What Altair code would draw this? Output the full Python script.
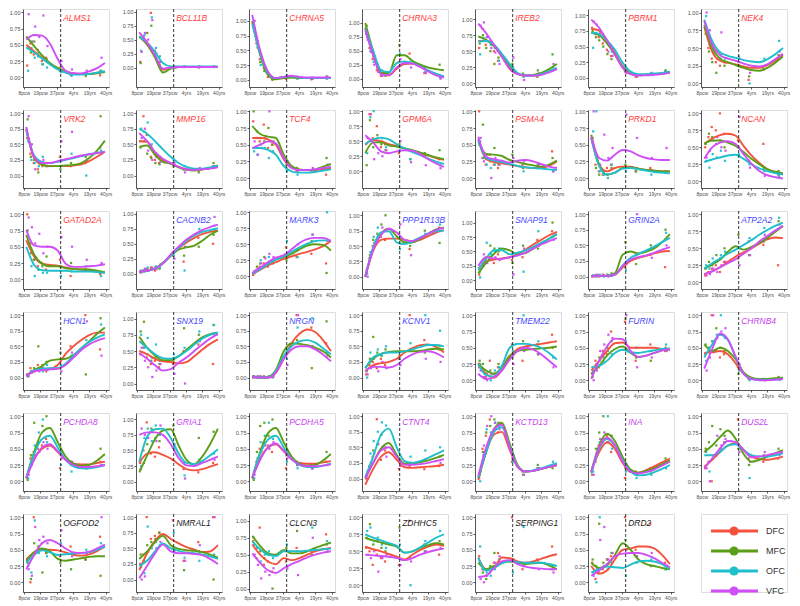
import json
import altair as alt
import pandas as pd

SERIES = ["DFC", "MFC", "OFC", "VFC"]
SERIES_COLORS = ["#f4523e", "#5b9e17", "#1fbfcb", "#d04ef7"]
X_LABELS = ["8pcw", "19pcw", "37pcw", "4yrs", "19yrs", "40yrs"]
KNOTS = [0.15, 0.63, 1.11, 1.59, 2.07, 2.55, 3.03, 3.51, 3.99, 4.47, 4.95]
SAMPLES = [0.25, 0.45, 0.65, 0.9, 1.15, 1.4, 2.25, 2.9, 3.8, 4.7]
BIRTH = 2.25

GENES = ["ALMS1", "BCL11B", "CHRNA5", "CHRNA3", "IREB2", "PBRM1", "NEK4",
         "VRK2", "MMP16", "TCF4", "GPM6A", "PSMA4", "PRKD1", "NCAN",
         "GATAD2A", "CACNB2", "MARK3", "PPP1R13B", "SNAP91", "GRIN2A", "ATP2A2",
         "HCN1", "SNX19", "NRGN", "KCNV1", "TMEM22", "FURIN", "CHRNB4",
         "PCHDA8", "GRIA1", "PCDHA5", "CTNT4", "KCTD13", "INA", "DUS2L",
         "OGFOD2", "NMRAL1", "CLCN3", "ZDHHC5", "SERPING1", "DRD2"]
TITLE_GROUP = ["r"] * 15 + ["b"] * 12 + ["m"] * 8 + ["k"] * 6
GROUP_COLORS = {"r": "#ff3d3d", "b": "#4646ff", "m": "#c63ff0", "k": "#1a1a1a"}

Y_LOW = [-0.15, -0.35, -0.12, -0.15, -0.06, -0.145, -0.05,
         -0.2, -0.2, -0.15, -0.28, -0.15, -0.15, -0.1,
         -0.15, -0.26, -0.2, -0.2, -0.15, -0.2, -0.1,
         -0.2, -0.1, -0.2, -0.2, -0.15, -0.15, -0.15,
         -0.15, -0.15, -0.15, -0.2, -0.15, -0.15, -0.15,
         -0.15, -0.2, -0.05, -0.1, -0.15, -0.15]
Y_HIGH = [1.05, 1.05, 1.2, 1.25, 1.16, 1.1, 1.05,
          1.05, 1.05, 1.02, 1.02, 1.02, 1.02, 1.05,
          1.05, 1.05, 1.02, 1.07, 1.2, 1.05, 1.05,
          1.05, 1.1, 1.05, 1.05, 1.05, 1.05, 1.05,
          1.05, 1.1, 1.05, 1.05, 1.05, 1.05, 1.05,
          1.05, 1.05, 1.1, 1.05, 1.05, 1.05]

# smoothed trend values at KNOTS, rows: DFC, MFC, OFC, VFC
ALMS1_LINE = [[0.50, 0.40, 0.30, 0.21, 0.14, 0.09, 0.06, 0.05, 0.05, 0.07, 0.09],
              [0.63, 0.48, 0.34, 0.22, 0.14, 0.08, 0.06, 0.05, 0.05, 0.06, 0.08],
              [0.46, 0.38, 0.29, 0.20, 0.12, 0.07, 0.04, 0.04, 0.05, 0.07, 0.09],
              [0.58, 0.65, 0.64, 0.52, 0.28, 0.10, 0.06, 0.06, 0.09, 0.14, 0.22]]
BCL11B_LINE = [[0.55, 0.41, 0.20, -0.04, 0.0, 0.01, 0.01, 0.01, 0.01, 0.01, 0.01],
               [0.56, 0.42, 0.18, -0.09, -0.02, 0.01, 0.01, 0.01, 0.01, 0.01, 0.01],
               [0.55, 0.45, 0.28, 0.08, 0.02, 0.02, 0.02, 0.02, 0.02, 0.02, 0.02],
               [0.63, 0.45, 0.22, -0.02, 0.0, 0.01, 0.01, 0.01, 0.01, 0.01, 0.01]]
CHRNA5_LINE = [[0.98, 0.45, 0.12, 0.03, 0.04, 0.05, 0.03, 0.03, 0.03, 0.03, 0.03],
               [1.0, 0.42, 0.08, 0.01, 0.03, 0.04, 0.03, 0.03, 0.03, 0.03, 0.03],
               [0.95, 0.45, 0.12, 0.03, 0.05, 0.06, 0.04, 0.03, 0.03, 0.03, 0.03],
               [1.1, 0.5, 0.14, 0.03, 0.05, 0.07, 0.05, 0.04, 0.04, 0.04, 0.04]]
CHRNA3_LINE = [[0.92, 0.45, 0.1, 0.06, 0.18, 0.26, 0.27, 0.22, 0.14, 0.08, 0.03],
               [1.0, 0.5, 0.1, 0.1, 0.42, 0.42, 0.32, 0.25, 0.2, 0.17, 0.15],
               [0.9, 0.5, 0.15, 0.12, 0.28, 0.31, 0.28, 0.22, 0.15, 0.09, 0.04],
               [0.88, 0.42, 0.08, 0.06, 0.2, 0.28, 0.27, 0.21, 0.13, 0.06, 0.02]]
IREB2_LINE = [[0.66, 0.66, 0.58, 0.42, 0.22, 0.14, 0.12, 0.12, 0.14, 0.18, 0.22],
              [0.73, 0.68, 0.58, 0.44, 0.27, 0.15, 0.12, 0.13, 0.16, 0.22, 0.30],
              [0.65, 0.66, 0.6, 0.46, 0.3, 0.16, 0.12, 0.12, 0.14, 0.19, 0.24],
              [0.93, 0.78, 0.6, 0.41, 0.23, 0.14, 0.12, 0.12, 0.13, 0.17, 0.22]]
PBRM1_LINE = [[0.78, 0.76, 0.6, 0.4, 0.18, 0.07, 0.04, 0.05, 0.06, 0.07, 0.09],
              [0.72, 0.68, 0.55, 0.37, 0.17, 0.07, 0.04, 0.05, 0.06, 0.07, 0.09],
              [0.72, 0.7, 0.6, 0.45, 0.24, 0.1, 0.06, 0.06, 0.07, 0.08, 0.1],
              [0.93, 0.8, 0.6, 0.38, 0.16, 0.06, 0.04, 0.04, 0.05, 0.06, 0.08]]
NEK4_LINE = [[0.80, 0.45, 0.32, 0.29, 0.27, 0.24, 0.22, 0.22, 0.26, 0.32, 0.40],
             [0.82, 0.5, 0.35, 0.3, 0.26, 0.22, 0.19, 0.18, 0.22, 0.29, 0.38],
             [0.90, 0.6, 0.44, 0.39, 0.36, 0.33, 0.31, 0.3, 0.34, 0.41, 0.50],
             [0.88, 0.55, 0.4, 0.35, 0.32, 0.28, 0.25, 0.24, 0.27, 0.34, 0.42]]
VRK2_LINE = [[0.75, 0.28, 0.17, 0.15, 0.15, 0.15, 0.16, 0.18, 0.23, 0.3, 0.38],
             [0.74, 0.3, 0.18, 0.15, 0.15, 0.16, 0.17, 0.2, 0.28, 0.4, 0.56],
             [0.72, 0.32, 0.22, 0.2, 0.22, 0.25, 0.28, 0.31, 0.34, 0.36, 0.38],
             [0.78, 0.3, 0.2, 0.2, 0.23, 0.26, 0.29, 0.32, 0.34, 0.36, 0.38]]
MMP16_LINE = [[0.55, 0.54, 0.36, 0.24, 0.19, 0.14, 0.1, 0.09, 0.1, 0.12, 0.14],
              [0.46, 0.48, 0.33, 0.22, 0.19, 0.13, 0.09, 0.08, 0.1, 0.12, 0.16],
              [0.75, 0.67, 0.55, 0.42, 0.3, 0.2, 0.14, 0.11, 0.11, 0.13, 0.16],
              [0.68, 0.55, 0.38, 0.27, 0.2, 0.14, 0.1, 0.09, 0.1, 0.11, 0.13]]
TCF4_LINE = [[0.6, 0.6, 0.58, 0.5, 0.28, 0.15, 0.12, 0.12, 0.12, 0.13, 0.15],
             [0.78, 0.66, 0.62, 0.6, 0.35, 0.18, 0.13, 0.12, 0.13, 0.17, 0.21],
             [0.45, 0.45, 0.42, 0.35, 0.18, 0.1, 0.08, 0.08, 0.09, 0.11, 0.13],
             [0.45, 0.5, 0.55, 0.52, 0.3, 0.15, 0.12, 0.12, 0.13, 0.15, 0.17]]
GPM6A_LINE = [[0.45, 0.52, 0.5, 0.45, 0.42, 0.38, 0.34, 0.3, 0.26, 0.22, 0.19],
              [0.3, 0.48, 0.48, 0.43, 0.41, 0.38, 0.35, 0.31, 0.27, 0.23, 0.2],
              [0.45, 0.53, 0.56, 0.53, 0.45, 0.38, 0.32, 0.27, 0.21, 0.16, 0.12],
              [0.6, 0.48, 0.33, 0.3, 0.33, 0.35, 0.34, 0.28, 0.2, 0.13, 0.07]]
PSMA4_LINE = [[0.58, 0.28, 0.24, 0.22, 0.2, 0.18, 0.16, 0.15, 0.15, 0.18, 0.25],
              [0.55, 0.36, 0.35, 0.33, 0.27, 0.24, 0.21, 0.19, 0.17, 0.2, 0.26],
              [0.57, 0.3, 0.26, 0.24, 0.21, 0.18, 0.16, 0.15, 0.14, 0.13, 0.12],
              [0.62, 0.32, 0.28, 0.26, 0.23, 0.26, 0.27, 0.25, 0.21, 0.17, 0.15]]
PRKD1_LINE = [[0.6, 0.2, 0.1, 0.15, 0.17, 0.17, 0.14, 0.12, 0.11, 0.1, 0.1],
              [0.65, 0.2, 0.05, 0.08, 0.15, 0.16, 0.14, 0.12, 0.11, 0.1, 0.1],
              [0.6, 0.18, 0.05, 0.08, 0.14, 0.15, 0.13, 0.11, 0.09, 0.08, 0.07],
              [0.62, 0.3, 0.26, 0.35, 0.42, 0.4, 0.34, 0.3, 0.28, 0.27, 0.27]]
NCAN_LINE = [[0.55, 0.63, 0.68, 0.7, 0.67, 0.52, 0.38, 0.27, 0.18, 0.13, 0.1],
             [0.55, 0.6, 0.6, 0.57, 0.52, 0.43, 0.33, 0.25, 0.18, 0.14, 0.12],
             [0.28, 0.32, 0.35, 0.38, 0.39, 0.33, 0.25, 0.19, 0.15, 0.12, 0.1],
             [0.33, 0.5, 0.57, 0.59, 0.55, 0.4, 0.26, 0.15, 0.09, 0.06, 0.04]]
GATAD2A_LINE = [[0.6, 0.35, 0.24, 0.22, 0.21, 0.18, 0.16, 0.15, 0.14, 0.12, 0.1],
                [0.68, 0.38, 0.24, 0.2, 0.2, 0.17, 0.16, 0.15, 0.15, 0.13, 0.11],
                [0.5, 0.22, 0.14, 0.13, 0.13, 0.13, 0.12, 0.12, 0.12, 0.11, 0.1],
                [0.76, 0.52, 0.5, 0.5, 0.44, 0.24, 0.19, 0.19, 0.2, 0.21, 0.23]]
CACNB2_LINE = [[0.03, 0.05, 0.08, 0.17, 0.3, 0.42, 0.52, 0.6, 0.66, 0.7, 0.72],
               [0.03, 0.05, 0.08, 0.18, 0.3, 0.4, 0.44, 0.47, 0.55, 0.65, 0.72],
               [0.03, 0.05, 0.08, 0.17, 0.3, 0.43, 0.55, 0.64, 0.7, 0.73, 0.76],
               [0.03, 0.05, 0.08, 0.17, 0.32, 0.45, 0.57, 0.66, 0.73, 0.78, 0.82]]
MARK3_LINE = [[0.04, 0.1, 0.17, 0.22, 0.27, 0.31, 0.35, 0.38, 0.42, 0.47, 0.55],
              [0.04, 0.12, 0.2, 0.26, 0.3, 0.35, 0.42, 0.48, 0.5, 0.49, 0.4],
              [0.04, 0.11, 0.19, 0.26, 0.31, 0.38, 0.45, 0.51, 0.55, 0.56, 0.56],
              [0.05, 0.13, 0.22, 0.29, 0.33, 0.42, 0.52, 0.58, 0.6, 0.6, 0.55]]
PPP1R13B_LINE = [[0.0, 0.42, 0.6, 0.62, 0.62, 0.6, 0.58, 0.6, 0.66, 0.72, 0.76],
                 [0.0, 0.45, 0.7, 0.78, 0.66, 0.56, 0.56, 0.62, 0.7, 0.77, 0.8],
                 [0.0, 0.48, 0.72, 0.74, 0.56, 0.53, 0.58, 0.64, 0.7, 0.74, 0.75],
                 [0.0, 0.44, 0.68, 0.78, 0.72, 0.6, 0.58, 0.63, 0.7, 0.76, 0.8]]
SNAP91_LINE = [[0.2, 0.32, 0.36, 0.38, 0.4, 0.45, 0.53, 0.62, 0.7, 0.78, 0.84],
               [0.12, 0.3, 0.46, 0.55, 0.52, 0.45, 0.47, 0.55, 0.63, 0.72, 0.8],
               [0.18, 0.38, 0.52, 0.52, 0.45, 0.48, 0.52, 0.58, 0.65, 0.72, 0.8],
               [0.25, 0.4, 0.38, 0.37, 0.4, 0.43, 0.48, 0.55, 0.62, 0.68, 0.73]]
GRIN2A_LINE = [[0.01, 0.01, 0.01, 0.03, 0.15, 0.25, 0.3, 0.33, 0.37, 0.4, 0.41],
               [0.01, 0.01, 0.01, 0.05, 0.35, 0.4, 0.37, 0.4, 0.45, 0.55, 0.68],
               [0.01, 0.01, 0.01, 0.03, 0.18, 0.3, 0.36, 0.42, 0.48, 0.55, 0.62],
               [0.01, 0.01, 0.01, 0.03, 0.17, 0.27, 0.31, 0.34, 0.38, 0.43, 0.47]]
ATP2A2_LINE = [[0.12, 0.16, 0.22, 0.3, 0.38, 0.44, 0.5, 0.57, 0.63, 0.66, 0.65],
               [0.2, 0.26, 0.33, 0.45, 0.53, 0.48, 0.52, 0.58, 0.65, 0.74, 0.83],
               [0.2, 0.28, 0.35, 0.42, 0.48, 0.55, 0.62, 0.7, 0.77, 0.83, 0.88],
               [0.12, 0.16, 0.22, 0.28, 0.34, 0.42, 0.5, 0.6, 0.68, 0.76, 0.83]]
HCN1_LINE = [[0.03, 0.1, 0.13, 0.14, 0.2, 0.38, 0.5, 0.6, 0.68, 0.72, 0.72],
             [0.03, 0.12, 0.18, 0.27, 0.29, 0.3, 0.36, 0.47, 0.58, 0.7, 0.8],
             [0.03, 0.11, 0.14, 0.15, 0.15, 0.22, 0.35, 0.47, 0.57, 0.64, 0.69],
             [0.03, 0.1, 0.12, 0.13, 0.14, 0.2, 0.32, 0.44, 0.53, 0.59, 0.63]]
SNX19_LINE = [[0.5, 0.45, 0.38, 0.34, 0.33, 0.31, 0.33, 0.42, 0.52, 0.61, 0.68],
              [0.72, 0.55, 0.43, 0.36, 0.36, 0.42, 0.52, 0.62, 0.71, 0.76, 0.78],
              [0.65, 0.55, 0.45, 0.39, 0.38, 0.42, 0.5, 0.6, 0.69, 0.75, 0.78],
              [0.47, 0.38, 0.28, 0.2, 0.22, 0.32, 0.4, 0.5, 0.6, 0.69, 0.76]]
NRGN_LINE = [[0.02, 0.0, 0.0, 0.08, 0.3, 0.55, 0.7, 0.77, 0.73, 0.6, 0.42],
             [0.02, 0.0, 0.01, 0.12, 0.42, 0.55, 0.54, 0.52, 0.48, 0.42, 0.32],
             [0.02, 0.0, 0.0, 0.1, 0.35, 0.5, 0.58, 0.6, 0.56, 0.47, 0.37],
             [0.02, 0.0, 0.0, 0.08, 0.3, 0.45, 0.5, 0.5, 0.45, 0.37, 0.26]]
KCNV1_LINE = [[0.1, 0.2, 0.23, 0.25, 0.3, 0.4, 0.47, 0.52, 0.53, 0.49, 0.4],
              [0.15, 0.3, 0.38, 0.41, 0.42, 0.42, 0.42, 0.43, 0.45, 0.46, 0.45],
              [0.15, 0.32, 0.38, 0.4, 0.4, 0.42, 0.45, 0.49, 0.52, 0.52, 0.5],
              [0.1, 0.17, 0.17, 0.16, 0.2, 0.3, 0.37, 0.41, 0.42, 0.39, 0.32]]
TMEM22_LINE = [[0.27, 0.1, 0.04, 0.15, 0.35, 0.48, 0.52, 0.54, 0.56, 0.58, 0.6],
               [0.25, 0.15, 0.1, 0.2, 0.38, 0.45, 0.47, 0.48, 0.49, 0.5, 0.52],
               [0.25, 0.08, 0.06, 0.22, 0.5, 0.56, 0.56, 0.54, 0.5, 0.42, 0.32],
               [0.1, 0.02, 0.05, 0.15, 0.32, 0.45, 0.5, 0.47, 0.4, 0.3, 0.2]]
FURIN_LINE = [[0.15, 0.3, 0.45, 0.57, 0.58, 0.5, 0.5, 0.5, 0.5, 0.48, 0.47],
              [0.1, 0.22, 0.38, 0.48, 0.52, 0.42, 0.36, 0.38, 0.42, 0.46, 0.48],
              [0.2, 0.22, 0.3, 0.42, 0.47, 0.43, 0.42, 0.44, 0.46, 0.48, 0.49],
              [0.02, 0.3, 0.52, 0.64, 0.63, 0.45, 0.36, 0.38, 0.42, 0.46, 0.48]]
CHRNB4_LINE = [[0.42, 0.43, 0.45, 0.4, 0.26, 0.1, 0.03, 0.01, 0.01, 0.02, 0.03],
               [0.55, 0.45, 0.5, 0.45, 0.32, 0.12, 0.04, 0.02, 0.02, 0.03, 0.04],
               [0.35, 0.55, 0.7, 0.62, 0.35, 0.1, 0.02, 0.01, 0.01, 0.01, 0.02],
               [0.18, 0.48, 0.72, 0.63, 0.36, 0.1, 0.02, 0.0, 0.0, 0.01, 0.02]]
PCHDA8_LINE = [[0.05, 0.35, 0.5, 0.55, 0.45, 0.33, 0.27, 0.26, 0.26, 0.28, 0.3],
               [0.05, 0.45, 0.75, 0.82, 0.6, 0.38, 0.27, 0.24, 0.25, 0.32, 0.42],
               [0.05, 0.42, 0.65, 0.7, 0.52, 0.33, 0.23, 0.2, 0.2, 0.22, 0.25],
               [0.05, 0.33, 0.52, 0.57, 0.46, 0.33, 0.25, 0.22, 0.22, 0.23, 0.25]]
GRIA1_LINE = [[0.3, 0.45, 0.47, 0.43, 0.37, 0.28, 0.2, 0.18, 0.2, 0.24, 0.28],
              [0.15, 0.42, 0.68, 0.82, 0.84, 0.58, 0.35, 0.28, 0.4, 0.6, 0.85],
              [0.32, 0.72, 0.84, 0.85, 0.7, 0.45, 0.3, 0.28, 0.33, 0.42, 0.52],
              [0.75, 0.79, 0.79, 0.75, 0.6, 0.38, 0.26, 0.25, 0.3, 0.35, 0.4]]
PCDHA5_LINE = [[0.05, 0.35, 0.52, 0.57, 0.46, 0.34, 0.28, 0.27, 0.27, 0.29, 0.31],
               [0.05, 0.45, 0.74, 0.82, 0.6, 0.38, 0.27, 0.24, 0.25, 0.32, 0.42],
               [0.05, 0.42, 0.64, 0.7, 0.52, 0.34, 0.25, 0.22, 0.22, 0.24, 0.27],
               [0.05, 0.33, 0.52, 0.58, 0.47, 0.34, 0.26, 0.23, 0.23, 0.24, 0.26]]
CTNT4_LINE = [[-0.1, 0.15, 0.35, 0.42, 0.3, 0.18, 0.17, 0.18, 0.19, 0.2, 0.22],
              [0.0, 0.25, 0.48, 0.57, 0.38, 0.24, 0.24, 0.26, 0.29, 0.33, 0.38],
              [0.02, 0.35, 0.7, 0.8, 0.5, 0.28, 0.25, 0.28, 0.33, 0.39, 0.45],
              [0.0, 0.25, 0.45, 0.5, 0.35, 0.22, 0.22, 0.23, 0.25, 0.28, 0.31]]
KCTD13_LINE = [[0.02, 0.45, 0.72, 0.76, 0.48, 0.22, 0.15, 0.16, 0.19, 0.22, 0.25],
               [0.05, 0.45, 0.8, 0.9, 0.58, 0.25, 0.15, 0.16, 0.19, 0.22, 0.25],
               [0.05, 0.45, 0.76, 0.83, 0.54, 0.23, 0.15, 0.17, 0.2, 0.24, 0.28],
               [0.08, 0.52, 0.8, 0.87, 0.52, 0.22, 0.15, 0.16, 0.19, 0.22, 0.25]]
INA_LINE = [[0.15, 0.45, 0.6, 0.5, 0.28, 0.14, 0.13, 0.17, 0.23, 0.29, 0.35],
            [0.15, 0.55, 0.73, 0.62, 0.37, 0.18, 0.13, 0.16, 0.2, 0.26, 0.32],
            [0.12, 0.5, 0.65, 0.55, 0.32, 0.15, 0.09, 0.1, 0.14, 0.19, 0.25],
            [0.14, 0.52, 0.67, 0.56, 0.3, 0.15, 0.12, 0.14, 0.18, 0.24, 0.3]]
DUS2L_LINE = [[0.22, 0.33, 0.45, 0.55, 0.58, 0.48, 0.38, 0.34, 0.33, 0.35, 0.38],
              [0.45, 0.55, 0.68, 0.78, 0.65, 0.42, 0.3, 0.33, 0.38, 0.43, 0.48],
              [0.4, 0.4, 0.45, 0.55, 0.57, 0.48, 0.4, 0.38, 0.38, 0.4, 0.43],
              [0.2, 0.35, 0.5, 0.62, 0.6, 0.48, 0.37, 0.38, 0.4, 0.43, 0.45]]
OGFOD2_LINE = [[0.35, 0.46, 0.5, 0.5, 0.49, 0.46, 0.42, 0.41, 0.43, 0.48, 0.55],
               [0.32, 0.46, 0.52, 0.48, 0.36, 0.33, 0.35, 0.37, 0.39, 0.4, 0.4],
               [0.3, 0.42, 0.49, 0.46, 0.42, 0.43, 0.44, 0.45, 0.46, 0.5, 0.55],
               [0.2, 0.42, 0.6, 0.65, 0.6, 0.52, 0.46, 0.45, 0.47, 0.52, 0.58]]
NMRAL1_LINE = [[0.15, 0.42, 0.62, 0.73, 0.65, 0.58, 0.52, 0.48, 0.44, 0.45, 0.55],
               [0.33, 0.45, 0.6, 0.7, 0.55, 0.49, 0.47, 0.46, 0.44, 0.4, 0.35],
               [0.22, 0.3, 0.45, 0.58, 0.5, 0.46, 0.43, 0.42, 0.4, 0.37, 0.33],
               [0.02, 0.22, 0.42, 0.56, 0.45, 0.42, 0.42, 0.41, 0.39, 0.33, 0.25]]
CLCN3_LINE = [[0.65, 0.5, 0.4, 0.36, 0.45, 0.42, 0.45, 0.5, 0.55, 0.58, 0.6],
              [0.78, 0.63, 0.52, 0.5, 0.57, 0.52, 0.52, 0.55, 0.6, 0.64, 0.68],
              [0.7, 0.58, 0.5, 0.48, 0.55, 0.55, 0.55, 0.56, 0.57, 0.58, 0.59],
              [0.52, 0.38, 0.27, 0.23, 0.3, 0.36, 0.41, 0.46, 0.5, 0.53, 0.55]]
ZDHHC5_LINE = [[0.57, 0.53, 0.5, 0.46, 0.42, 0.38, 0.45, 0.52, 0.57, 0.6, 0.58],
               [0.7, 0.66, 0.63, 0.6, 0.57, 0.48, 0.5, 0.55, 0.59, 0.62, 0.6],
               [0.75, 0.7, 0.66, 0.62, 0.58, 0.48, 0.5, 0.56, 0.63, 0.7, 0.75],
               [0.45, 0.44, 0.43, 0.42, 0.4, 0.37, 0.4, 0.45, 0.49, 0.52, 0.54]]
SERPING1_LINE = [[0.38, 0.2, 0.22, 0.38, 0.37, 0.32, 0.3, 0.32, 0.36, 0.4, 0.43],
                 [0.3, 0.2, 0.25, 0.3, 0.32, 0.3, 0.28, 0.29, 0.3, 0.26, 0.2],
                 [0.38, 0.18, 0.22, 0.29, 0.33, 0.31, 0.3, 0.3, 0.3, 0.28, 0.25],
                 [0.08, 0.1, 0.22, 0.32, 0.34, 0.28, 0.24, 0.22, 0.21, 0.2, 0.2]]
DRD2_LINE = [[0.25, 0.13, 0.18, 0.35, 0.5, 0.52, 0.55, 0.55, 0.52, 0.42, 0.28],
             [0.3, 0.22, 0.26, 0.42, 0.6, 0.5, 0.35, 0.28, 0.25, 0.22, 0.2],
             [0.15, 0.2, 0.24, 0.23, 0.22, 0.27, 0.32, 0.33, 0.32, 0.28, 0.2],
             [0.1, 0.18, 0.28, 0.4, 0.44, 0.45, 0.45, 0.42, 0.37, 0.3, 0.23]]

# sample values at SAMPLES, rows: DFC, MFC, OFC, VFC
ALMS1_PTS = [[0.18, 0.52, 0.35, 0.42, 0.25, 0.3, 0.1, 0.04, 0.05, 0.03],
             [0.6, 0.38, 0.55, 0.32, 0.2, 0.28, 0.15, 0.05, 0.02, 0.1],
             [0.1, 0.45, 0.3, 0.38, 0.2, 0.15, 0.08, 0.02, 0.06, 0.1],
             [0.97, 0.55, 0.78, 0.62, 0.95, 0.48, 0.25, 0.12, 0.1, 0.3]]
BCL11B_PTS = [[0.1, 0.55, 0.45, 0.98, 0.3, 0.1, 0.0, 0.01, 0.01, 0.01],
              [0.08, 0.5, 0.62, 0.75, 0.2, 0.05, 0.0, 0.01, 0.0, 0.01],
              [0.3, 0.58, 0.4, 0.9, 0.35, 0.2, 0.02, 0.02, 0.02, 0.02],
              [0.28, 0.62, 0.5, 0.85, 0.25, 0.1, 0.01, 0.01, 0.01, 0.01]]
CHRNA5_PTS = [[0.9, 0.62, 0.35, 0.2, 0.05, 0.02, 0.02, 0.05, 0.01, 0.03],
              [0.95, 0.7, 0.3, 0.15, 0.08, 0.0, 0.05, 0.03, 0.02, 0.06],
              [0.85, 0.55, 0.25, 0.18, 0.1, 0.02, 0.08, 0.02, 0.04, 0.02],
              [1.0, 0.65, 0.4, 0.2, 0.06, 0.03, 0.06, 0.05, 0.02, 0.05]]
CHRNA3_PTS = [[0.8, 0.55, 0.35, 0.15, 0.05, 0.08, 0.3, 0.45, 0.1, 0.05],
              [0.95, 0.62, 0.4, 0.2, 0.1, 0.05, 0.6, 0.35, 0.2, 0.25],
              [0.75, 0.5, 0.3, 0.25, 0.15, 0.1, 0.45, 0.3, 0.12, 0.02],
              [0.7, 0.48, 0.25, 0.12, 0.05, 0.1, 0.35, 0.2, 0.1, 0.0]]
IREB2_PTS = [[0.55, 0.85, 0.6, 0.65, 0.5, 0.35, 0.2, 0.12, 0.1, 0.2],
             [0.62, 0.75, 0.55, 0.5, 0.3, 0.4, 0.3, 0.15, 0.2, 0.45],
             [0.45, 0.7, 0.72, 0.6, 0.55, 0.35, 0.25, 0.1, 0.12, 0.25],
             [0.9, 0.95, 0.72, 0.55, 0.48, 0.3, 0.4, 0.05, 0.15, 0.3]]
PBRM1_PTS = [[0.8, 0.7, 0.65, 0.55, 0.45, 0.35, 0.1, 0.02, 0.05, 0.1],
             [0.75, 0.65, 0.6, 0.5, 0.38, 0.3, 0.12, 0.03, 0.05, 0.12],
             [0.48, 0.72, 0.75, 0.65, 0.55, 0.42, 0.15, 0.05, 0.08, 0.1],
             [0.9, 0.85, 0.72, 0.6, 0.42, 0.35, 0.08, 0.02, 0.07, 0.08]]
NEK4_PTS = [[0.8, 0.5, 0.35, 0.3, 0.25, 0.3, 0.25, 0.05, 0.2, 0.35],
            [0.7, 0.45, 0.3, 0.15, 0.35, 0.25, 0.3, 0.1, 0.2, 0.4],
            [0.95, 0.55, 0.5, 0.45, 0.4, 0.35, 0.38, 0.0, 0.35, 0.6],
            [1.0, 0.75, 0.45, 0.35, 0.72, 0.3, 0.35, 0.15, 0.25, 0.45]]
VRK2_PTS = [[0.6, 0.35, 0.2, 0.1, 0.2, 0.15, 0.3, 0.15, 0.2, 0.45],
            [0.9, 0.3, 0.25, 0.05, 0.15, 0.2, 0.1, 0.2, 0.3, 0.95],
            [0.55, 0.25, 0.2, 0.15, 0.3, 0.2, 0.25, 0.35, 0.0, 0.4],
            [0.95, 0.5, 0.1, 0.2, 0.25, 0.15, 0.55, 0.7, 0.25, 0.35]]
MMP16_PTS = [[0.55, 0.95, 0.65, 0.3, 0.25, 0.2, 0.2, 0.1, 0.08, 0.15],
             [0.45, 0.55, 0.35, 0.28, 0.2, 0.18, 0.15, 0.1, 0.05, 0.2],
             [0.75, 0.7, 0.85, 0.5, 0.35, 0.3, 0.25, 0.15, 0.1, 0.12],
             [0.6, 0.75, 0.4, 0.25, 0.3, 0.22, 0.2, 0.05, 0.12, 0.15]]
TCF4_PTS = [[0.85, 0.6, 0.55, 0.8, 0.45, 0.5, 0.15, 0.1, 0.12, 0.05],
            [1.0, 0.7, 0.6, 0.55, 0.75, 0.5, 0.2, 0.15, 0.1, 0.3],
            [0.4, 0.35, 0.5, 0.45, 0.3, 0.4, 0.1, 0.05, 0.1, 0.15],
            [0.55, 0.35, 0.45, 0.6, 1.0, 0.55, 0.25, 0.1, 0.15, 0.2]]
GPM6A_PTS = [[0.45, 0.95, 0.55, 0.75, 0.4, 0.45, 0.3, 0.35, 0.25, 0.2],
             [0.1, 0.85, 0.4, 0.6, 0.45, 0.35, 0.45, 0.2, 0.3, 0.35],
             [0.3, 0.9, 1.0, 0.5, 0.55, 0.4, 0.35, 0.2, 0.25, 0.1],
             [0.55, 0.95, 0.2, 0.3, 0.25, 0.35, 0.5, 0.15, 0.1, 0.05]]
PSMA4_PTS = [[1.0, 0.3, 0.2, 0.35, 0.2, 0.15, 0.25, 0.2, 0.15, 0.4],
             [0.5, 0.8, 0.3, 0.25, 0.45, 0.2, 0.35, 0.15, 0.2, 0.3],
             [0.55, 0.3, 0.2, 0.15, 0.2, 0.25, 0.2, 0.1, 0.15, 0.1],
             [0.6, 0.25, 0.35, 0.0, 0.3, 0.2, 0.3, 0.25, 0.2, 0.1]]
PRKD1_PTS = [[0.55, 0.2, 0.1, 0.05, 0.15, 0.2, 0.15, 0.1, 0.15, 0.08],
             [0.6, 0.15, 0.05, 0.1, 0.05, 0.15, 0.2, 0.1, 0.12, 0.1],
             [0.7, 1.0, 0.1, 0.05, 0.0, 0.2, 0.1, 0.15, 0.05, 0.1],
             [1.0, 0.35, 0.2, 0.65, 0.3, 0.45, 0.95, 0.6, 0.3, 0.45]]
NCAN_PTS = [[0.5, 0.65, 0.8, 0.75, 1.0, 0.7, 0.6, 0.3, 0.55, 0.1],
            [0.55, 0.7, 0.65, 0.55, 0.6, 0.5, 0.5, 0.3, 0.2, 0.15],
            [0.3, 0.2, 0.4, 0.35, 0.45, 0.3, 0.4, 0.25, 0.15, 0.08],
            [0.35, 0.45, 0.6, 0.65, 0.5, 0.45, 0.95, 0.2, 0.08, 0.05]]
GATAD2A_PTS = [[1.0, 0.55, 0.3, 0.2, 0.25, 0.15, 0.3, 0.05, 0.15, 0.08],
               [0.75, 0.4, 0.3, 0.15, 0.2, 0.35, 0.2, 0.25, 0.15, 0.1],
               [0.55, 0.2, 0.05, 0.15, 0.1, 0.1, 0.05, 0.12, 0.2, 0.05],
               [0.95, 0.8, 0.55, 0.7, 0.4, 0.5, 0.65, 0.5, 0.3, 0.25]]
CACNB2_PTS = [[0.02, 0.05, 0.08, 0.1, 0.05, 0.12, 0.3, 0.2, 0.6, 0.5],
              [0.03, 0.05, 0.06, 0.08, 0.1, 0.08, 0.35, 0.3, 0.45, 0.65],
              [0.05, 0.03, 0.1, 0.08, 0.12, 0.1, 0.3, 0.05, 0.75, 0.8],
              [0.02, 0.08, 0.05, 0.1, 0.07, 0.15, 0.25, 0.45, 0.7, 0.95]]
MARK3_PTS = [[0.02, 0.1, 0.15, 0.2, 0.15, 0.25, 0.45, 0.3, 0.35, 0.2],
             [0.05, 0.15, 0.2, 0.3, 0.2, 0.25, 0.25, 0.4, 0.55, 0.05],
             [0.08, 0.1, 0.25, 0.15, 0.3, 0.2, 0.55, 0.3, 0.65, 1.0],
             [0.05, 0.12, 0.2, 0.28, 0.35, 0.3, 0.35, 0.5, 0.65, 0.55]]
PPP1R13B_PTS = [[0.05, 0.3, 0.5, 0.55, 0.65, 0.6, 0.7, 0.45, 0.65, 0.8],
                [0.1, 0.35, 0.6, 0.7, 0.85, 1.0, 0.55, 0.5, 0.75, 0.55],
                [0.05, 0.4, 0.65, 0.8, 0.7, 0.75, 0.45, 0.55, 0.7, 0.85],
                [0.0, 0.35, 0.55, 0.65, 0.8, 0.75, 0.85, 0.35, 0.65, 0.75]]
SNAP91_PTS = [[0.1, 0.3, 0.35, 0.4, 0.3, 0.45, 0.35, 0.4, 0.7, 0.85],
              [0.15, 0.25, 0.4, 0.6, 0.55, 0.5, 0.3, 0.6, 0.55, 1.0],
              [0.05, 0.35, 0.65, 0.45, 0.5, 0.55, 0.45, 0.15, 0.85, 0.75],
              [0.2, 0.45, 0.3, 0.35, 0.4, 0.35, 0.1, 0.55, 0.6, 0.7]]
GRIN2A_PTS = [[0.0, 0.02, 0.0, 0.03, 0.01, 0.02, 0.15, 0.3, 0.35, 0.15],
              [0.01, 0.0, 0.02, 0.01, 0.03, 0.05, 0.55, 0.2, 0.5, 0.75],
              [0.02, 0.01, 0.03, 0.0, 0.02, 0.01, 0.1, 0.35, 0.45, 0.7],
              [0.0, 0.03, 0.01, 0.02, 0.0, 0.04, 0.2, 1.0, 0.3, 0.5]]
ATP2A2_PTS = [[0.1, 0.15, 0.2, 0.25, 0.15, 0.3, 0.35, 0.6, 0.55, 0.25],
              [0.2, 0.3, 0.25, 0.4, 0.35, 0.5, 0.7, 0.4, 0.6, 0.9],
              [0.25, 0.2, 0.35, 0.3, 0.4, 0.45, 0.5, 0.65, 0.8, 0.95],
              [0.1, 0.12, 0.2, 0.15, 0.25, 0.3, 0.25, 0.4, 0.7, 0.85]]
HCN1_PTS = [[0.05, 0.15, 0.1, 0.2, 0.15, 0.1, 0.15, 0.5, 1.0, 0.45],
            [0.02, 0.1, 0.15, 0.5, 0.2, 0.25, 0.4, 0.3, 0.05, 0.95],
            [0.03, 0.1, 0.12, 0.15, 0.1, 0.2, 0.2, 0.35, 0.6, 0.85],
            [0.02, 0.08, 0.12, 0.1, 0.15, 0.12, 0.1, 0.4, 0.9, 0.35]]
SNX19_PTS = [[0.45, 0.55, 0.4, 0.3, 0.35, 0.25, 0.3, 0.5, 0.6, 0.3],
             [0.8, 0.95, 0.45, 0.35, 0.4, 0.3, 0.35, 0.85, 0.75, 0.9],
             [0.75, 0.55, 0.7, 0.4, 0.6, 0.35, 0.45, 0.55, 0.8, 0.9],
             [0.55, 0.35, 0.25, 0.1, 0.2, 0.3, 0.15, 0.0, 0.65, 0.75]]
NRGN_PTS = [[0.0, 0.01, 0.0, 0.02, 0.0, 0.01, 0.35, 1.0, 0.8, 0.55],
            [0.01, 0.0, 0.02, 0.0, 0.01, 0.0, 0.45, 0.6, 0.15, 0.9],
            [0.02, 0.01, 0.0, 0.01, 0.02, 0.01, 0.3, 0.8, 0.95, 0.4],
            [0.0, 0.02, 0.01, 0.0, 0.01, 0.02, 0.2, 1.0, 0.5, 0.35]]
KCNV1_PTS = [[0.05, 0.2, 0.25, 0.15, 0.3, 0.2, 0.3, 1.0, 0.6, 0.45],
             [0.1, 0.3, 0.65, 0.4, 0.35, 0.45, 0.35, 0.45, 0.4, 0.5],
             [0.0, 0.4, 0.3, 0.45, 0.35, 0.5, 0.3, 0.55, 1.0, 0.75],
             [0.05, 0.15, 0.2, 0.1, 0.25, 0.15, 0.2, 0.45, 0.3, 0.25]]
TMEM22_PTS = [[0.2, 0.15, 0.05, 0.3, 0.1, 0.2, 0.55, 0.3, 0.55, 0.7],
              [0.3, 0.25, 0.1, 0.15, 0.05, 0.25, 0.35, 0.6, 0.4, 0.5],
              [0.25, 0.05, 0.1, 0.0, 0.15, 0.2, 0.45, 1.0, 0.6, 0.35],
              [0.15, 0.05, 0.0, 0.1, 0.05, 0.15, 0.25, 0.45, 0.4, 0.2]]
FURIN_PTS = [[0.1, 0.3, 0.2, 0.45, 0.4, 0.75, 0.9, 0.3, 0.55, 0.45],
             [0.05, 0.2, 0.35, 0.3, 0.5, 0.6, 0.95, 0.35, 0.3, 0.5],
             [0.15, 0.25, 0.3, 0.35, 0.45, 0.4, 0.6, 0.5, 0.45, 0.55],
             [0.0, 0.15, 0.45, 0.55, 0.7, 0.65, 1.0, 0.2, 0.35, 0.45]]
CHRNB4_PTS = [[0.4, 0.5, 1.0, 0.45, 0.35, 0.4, 0.2, 0.02, 0.01, 0.03],
              [0.55, 0.45, 0.6, 0.8, 0.5, 0.45, 0.1, 0.05, 0.02, 0.05],
              [0.3, 0.5, 0.6, 0.7, 1.0, 0.65, 0.15, 0.0, 0.01, 0.02],
              [0.15, 0.35, 1.0, 0.65, 0.75, 0.8, 0.25, 0.02, 0.0, 0.01]]
PCHDA8_PTS = [[0.05, 0.35, 0.45, 0.5, 0.55, 0.65, 0.2, 0.3, 0.25, 0.3],
              [0.02, 0.4, 0.9, 0.6, 0.85, 1.0, 0.45, 0.25, 0.2, 0.5],
              [0.05, 0.3, 0.55, 0.75, 0.95, 0.6, 0.25, 0.15, 0.2, 0.25],
              [0.1, 0.25, 0.4, 0.45, 0.6, 0.5, 0.35, 0.3, 0.2, 0.25]]
GRIA1_PTS = [[0.3, 0.5, 0.95, 0.45, 0.4, 0.55, 0.35, 0.2, 0.15, 0.3],
             [0.2, 0.3, 0.6, 0.85, 0.7, 0.65, 0.9, 0.3, 0.7, 0.8],
             [0.25, 0.7, 0.85, 0.65, 0.9, 0.75, 0.55, 0.1, 0.35, 0.45],
             [0.85, 0.75, 0.7, 0.8, 0.65, 0.9, 0.6, 0.05, 0.3, 0.35]]
PCDHA5_PTS = [[0.05, 0.3, 0.5, 0.6, 0.55, 0.45, 0.2, 0.3, 0.25, 0.3],
              [0.02, 0.45, 0.85, 0.9, 0.7, 0.95, 0.4, 0.25, 0.2, 0.45],
              [0.05, 0.35, 0.6, 0.7, 0.9, 0.65, 0.3, 0.2, 0.2, 0.25],
              [0.1, 0.3, 0.45, 0.55, 0.5, 0.6, 0.35, 0.25, 0.2, 0.25]]
CTNT4_PTS = [[0.0, 0.2, 0.35, 0.95, 0.3, 0.45, 0.15, 0.2, 0.15, 0.2],
             [0.05, 0.2, 0.45, 0.55, 0.7, 0.5, 0.3, 0.25, 0.3, 0.35],
             [0.1, 0.4, 0.6, 0.75, 0.9, 0.85, 0.25, 0.35, 0.45, 0.5],
             [0.0, 0.25, 0.4, 0.55, 0.5, 0.35, 0.2, 0.25, 0.3, 0.25]]
KCTD13_PTS = [[0.05, 0.5, 0.7, 0.95, 0.8, 0.75, 0.3, 0.15, 0.2, 0.25],
              [0.1, 0.45, 0.75, 0.85, 0.95, 0.9, 0.35, 0.1, 0.25, 0.2],
              [0.0, 0.4, 0.8, 0.75, 0.9, 0.85, 0.3, 0.15, 0.2, 0.3],
              [0.15, 0.55, 0.85, 1.0, 0.9, 0.8, 0.4, 0.1, 0.2, 0.25]]
INA_PTS = [[0.1, 0.3, 0.55, 0.6, 0.7, 0.45, 0.05, 0.15, 0.2, 0.3],
           [0.2, 0.5, 0.75, 1.0, 0.6, 0.7, 0.2, 0.1, 0.15, 0.35],
           [0.15, 0.4, 0.6, 0.65, 1.0, 0.5, 0.15, 0.05, 0.1, 0.2],
           [0.1, 0.45, 0.65, 0.75, 0.6, 0.55, 0.25, 0.1, 0.2, 0.3]]
DUS2L_PTS = [[0.2, 0.3, 0.0, 0.4, 0.5, 0.6, 0.95, 0.35, 0.3, 0.35],
             [0.5, 0.6, 0.85, 0.55, 0.8, 0.7, 0.5, 0.25, 0.4, 0.5],
             [0.45, 0.15, 0.35, 0.4, 0.5, 0.6, 0.55, 0.05, 0.35, 0.45],
             [0.2, 0.0, 0.4, 0.7, 0.55, 0.65, 0.45, 0.3, 0.45, 0.4]]
OGFOD2_PTS = [[0.35, 0.0, 1.0, 0.5, 0.6, 0.45, 0.4, 0.55, 0.35, 0.7],
              [0.3, 0.05, 0.6, 0.55, 0.15, 0.45, 0.3, 0.2, 0.35, 0.1],
              [0.25, 0.15, 0.95, 0.45, 0.5, 0.4, 0.6, 0.45, 0.5, 0.6],
              [0.2, 0.1, 0.85, 0.65, 0.7, 0.6, 0.8, 0.4, 0.45, 1.0]]
NMRAL1_PTS = [[0.25, 0.4, 1.0, 0.65, 0.7, 0.75, 0.95, 0.3, 0.6, 1.0],
              [0.4, 0.3, 0.55, 0.6, 0.65, 0.75, 0.5, 0.15, 0.45, 0.0],
              [0.2, 0.1, 0.85, 0.5, 0.6, 0.55, 0.75, 0.35, 0.3, 0.4],
              [0.0, 0.05, 0.45, 0.55, 0.5, 0.6, 0.45, 0.3, 0.55, 1.0]]
CLCN3_PTS = [[0.7, 0.45, 0.9, 0.35, 0.4, 0.25, 0.4, 0.6, 0.55, 0.8],
             [0.75, 0.6, 0.55, 0.45, 0.5, 0.0, 0.6, 0.85, 0.5, 0.65],
             [0.65, 0.6, 0.4, 0.5, 0.55, 0.45, 0.65, 0.55, 0.9, 0.7],
             [0.5, 0.35, 0.15, 0.25, 0.2, 0.3, 0.3, 0.2, 0.75, 0.55]]
ZDHHC5_PTS = [[0.55, 0.5, 0.3, 0.45, 0.4, 0.35, 0.3, 0.95, 0.6, 0.45],
              [0.7, 0.9, 0.6, 0.65, 0.55, 0.5, 0.85, 0.4, 0.5, 0.65],
              [0.8, 0.85, 0.65, 0.7, 0.6, 0.55, 0.6, 0.0, 0.65, 0.8],
              [0.45, 0.4, 0.5, 0.2, 0.4, 0.45, 0.3, 0.35, 0.5, 0.55]]
SERPING1_PTS = [[0.4, 0.2, 0.1, 0.15, 0.3, 0.45, 1.0, 0.2, 0.35, 0.55],
                [0.3, 0.15, 0.05, 0.25, 0.45, 0.3, 0.35, 0.25, 0.3, 0.2],
                [0.55, 0.2, 0.15, 0.1, 0.2, 0.35, 0.15, 0.85, 0.3, 0.25],
                [0.05, 0.0, 0.1, 0.2, 0.3, 0.4, 0.35, 0.25, 0.2, 0.15]]
DRD2_PTS = [[0.3, 0.05, 0.15, 0.2, 0.35, 0.4, 1.0, 0.5, 0.9, 0.3],
            [0.35, 0.25, 0.9, 0.3, 0.35, 0.45, 0.65, 0.4, 0.25, 0.2],
            [0.15, 0.0, 1.0, 0.25, 0.2, 0.3, 0.1, 0.3, 0.35, 0.2],
            [0.1, 0.2, 0.65, 0.85, 0.35, 0.45, 0.5, 0.4, 0.45, 0.25]]

# ---------------------------------------------------------------- layout
PANEL_W, PANEL_H = 86, 78
PT_OFFSETS = [-0.045, -0.015, 0.015, 0.045]
AXIS_COLOR = "#333333"
LABEL_COLOR = "#4d4d4d"
FONT = "Liberation Sans"

color_enc = alt.Color("series:N", scale=alt.Scale(domain=SERIES, range=SERIES_COLORS), legend=None)
x_label_expr = json.dumps(X_LABELS) + "[datum.value]"


def panel(i, gene):
    lines = globals()[gene + "_LINE"]
    pts = globals()[gene + "_PTS"]
    line_rows, pt_rows = [], []
    for s, name in enumerate(SERIES):
        for k, v in zip(KNOTS, lines[s]):
            line_rows.append({"x": k, "y": v, "series": name})
        for k, v in zip(SAMPLES, pts[s]):
            pt_rows.append({"x": k + PT_OFFSETS[s], "y": v, "series": name})
    ldf = pd.DataFrame(line_rows)
    pdf = pd.DataFrame(pt_rows)

    xs = alt.Scale(domain=[-0.05, 5.2], nice=False, zero=False)
    ys = alt.Scale(domain=[Y_LOW[i], Y_HIGH[i]], nice=False, zero=False)
    xaxis = alt.Axis(values=[0, 1, 2, 3, 4, 5], labelExpr=x_label_expr, title=None, grid=False,
                     labelFontSize=5, labelFont=FONT, tickSize=2, labelPadding=1,
                     domainColor=AXIS_COLOR, tickColor=AXIS_COLOR, labelColor=LABEL_COLOR,
                     labelOverlap=False, labelFlush=False, domainWidth=0.8, tickWidth=0.8)
    yaxis = alt.Axis(values=[0, 0.25, 0.5, 0.75, 1.0], format=".2f", title=None, grid=False,
                     labelFontSize=5.5, labelFont=FONT, tickSize=2, labelPadding=1,
                     domainColor=AXIS_COLOR, tickColor=AXIS_COLOR, labelColor=LABEL_COLOR,
                     labelOverlap=False, labelFlush=False, domainWidth=0.8, tickWidth=0.8)

    points = alt.Chart(pdf).mark_square(size=5, opacity=0.95).encode(
        x=alt.X("x:Q", scale=xs, axis=xaxis),
        y=alt.Y("y:Q", scale=ys, axis=yaxis),
        color=color_enc,
    )
    curves = alt.Chart(ldf).mark_line(interpolate="monotone", strokeWidth=1.9, clip=True).encode(
        x=alt.X("x:Q", scale=xs, axis=xaxis),
        y=alt.Y("y:Q", scale=ys, axis=yaxis),
        color=color_enc,
        order=alt.Order("x:Q"),
    )
    birth = alt.Chart(pd.DataFrame({"x": [BIRTH]})).mark_rule(
        strokeDash=[3, 2], color="#222222", strokeWidth=0.9
    ).encode(x=alt.X("x:Q", scale=xs, axis=xaxis))
    title = alt.Chart(pd.DataFrame({"x": [BIRTH + 0.15], "gene": [gene]})).mark_text(
        align="left", baseline="middle", fontStyle="italic", fontSize=8.5, font=FONT,
        color=GROUP_COLORS[TITLE_GROUP[i]]
    ).encode(x=alt.X("x:Q", scale=xs, axis=xaxis), y=alt.value(9), text="gene:N")
    return alt.layer(points, curves, birth, title).properties(width=PANEL_W, height=PANEL_H)


def legend_panel():
    ldf = pd.DataFrame({"series": SERIES, "pos": [17 + 20 * i for i in range(len(SERIES))]})
    ys = alt.Scale(domain=[PANEL_H, 0], range=[PANEL_H, 0], nice=False, zero=False)
    y = alt.Y("pos:Q", scale=ys, axis=None)
    bars = alt.Chart(ldf).mark_rule(strokeWidth=3).encode(
        x=alt.value(10), x2=alt.value(57), y=y, color=color_enc)
    dots = alt.Chart(ldf).mark_circle(size=85, opacity=1).encode(
        x=alt.value(33), y=y, color=color_enc)
    labels = alt.Chart(ldf).mark_text(align="left", baseline="middle", fontSize=9, font=FONT,
                                      color="#333333").encode(
        x=alt.value(65), y=y, text="series:N")
    return alt.layer(bars, dots, labels).properties(width=PANEL_W, height=PANEL_H)


charts = [panel(i, g) for i, g in enumerate(GENES)] + [legend_panel()]

chart = alt.concat(*charts, columns=7, spacing={"row": 23, "column": 27}, bounds="flush").properties(
    padding={"left": 0, "top": 0, "right": 0, "bottom": 0}
).configure_view(stroke=None).configure(background="white")

chart.save("out.html", embed_options={"renderer": "svg", "actions": False})
